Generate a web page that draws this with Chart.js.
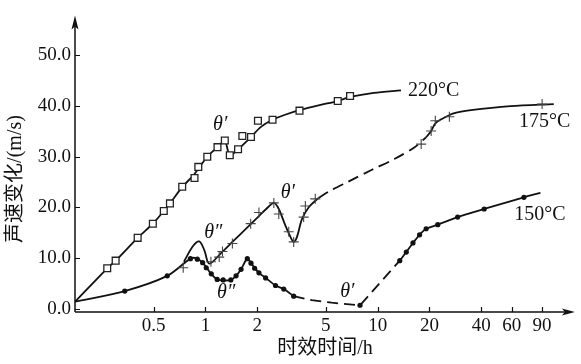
<!DOCTYPE html>
<html><head><meta charset="utf-8">
<script src="https://cdn.jsdelivr.net/npm/chart.js@4.4.1/dist/chart.umd.min.js"></script>
<style>html,body{margin:0;padding:0;background:#fff;}canvas{display:block;}</style>
</head><body>
<canvas id="c" width="581" height="364"></canvas>
<script>
// ---- axis ticks ----
const xTicks = [0.5, 1, 2, 5, 10, 20, 40, 60, 90];
const yTicks = [0, 10, 20, 30, 40, 50];
const xTitle = '时效时间/h';
const yTitle = '声速变化/(m/s)';
const seriesNames = ['220°C', '175°C', '150°C'];
const thetaNames = ['θ′', 'θ′', 'θ″', 'θ″', 'θ′'];

// ---- 220°C measured points (open squares) ----
const t220 = [0.269,0.301,0.404,0.495,0.573,0.622,0.733,0.864,0.909,1.025,1.175,1.296,1.385,1.547,1.638,1.839,2.018,2.453,3.517,5.867,6.917];
const v220 = [8.0,9.5,14.0,16.8,19.3,20.8,24.1,25.8,28.0,30.0,31.9,33.2,30.3,31.5,34.1,33.9,37.1,37.3,39.1,41.0,42.0];
// 220°C curve
const fit220T = [0.175,0.269,0.301,0.404,0.495,0.573,0.622,0.733,0.864,1.025,1.175,1.296,1.385,1.547,1.839,2.1,2.453,2.9,3.517,4.6,5.867,6.917,9.5,13.67];
const fit220V = [1.4,8.0,9.5,14.0,16.8,19.3,20.8,24.0,26.6,30.0,31.9,33.1,30.3,31.5,33.9,35.9,37.3,38.3,39.2,40.2,41.0,41.8,42.6,43.1];

// ---- 175°C measured points (crosses) ----
const t175 = [0.743,1.076,1.202,1.256,1.434,1.831,2.045,2.496,2.667,3.047,3.255,3.718,3.803,4.343,17.9,20.45,21.62,26.1,90.2];
const v175 = [8.1,9.3,10.2,11.3,12.9,16.8,19.0,20.9,18.7,15.2,13.2,18.1,20.3,21.7,32.5,35.1,37.1,37.9,40.4];
// 175°C curve: solid, dashed, solid
const fit175aT = [0.75,0.843,0.921,0.985,1.052,1.256,1.434,1.831,2.045,2.236,2.5,2.667,2.915,3.116,3.255,3.402,3.635,3.974,4.538];
const fit175aV = [9.3,12.3,13.3,11.6,8.9,11.3,13.2,16.7,18.3,19.6,20.9,19.7,16.4,14.2,13.2,14.2,17.7,20.0,21.9];
const fit175bT = [4.538,5.184,6.76,9.21,12.58,16.4,19.06];
const fit175bV = [21.9,23.1,25.1,27.4,29.6,31.9,33.8];
const fit175cT = [19.06,20.45,21.62,23.4,27.9,34.8,59.2,105.4];
const fit175cV = [33.8,35.1,36.6,37.4,38.6,39.2,40.0,40.4];

// ---- 150°C measured points (filled dots) ----
const t150 = [0.34,0.6,0.818,0.897,0.963,1.011,1.081,1.17,1.267,1.404,1.506,1.61,1.751,1.839,1.931,2.045,2.236,2.553,2.85,3.255,7.9,13.44,14.67,16.04,17.52,19.13,22.35,29.15,41.57,70.7];
const v150 = [3.5,6.5,9.9,9.8,9.1,8.1,6.9,5.8,5.7,5.7,6.5,7.8,9.9,9.0,8.0,7.1,6.1,4.6,3.9,2.5,0.7,9.5,11.2,13.0,14.6,15.8,16.6,18.1,19.7,22.0];
// 150°C curve: solid, dashed, solid
const fit150aT = [0.175,0.34,0.6,0.818,0.88,0.963,1.081,1.17,1.267,1.404,1.506,1.61,1.751,1.839,2.045,2.236,2.553,2.85,3.255];
const fit150aV = [1.4,3.5,6.5,9.9,10.0,9.1,6.9,5.8,5.6,5.7,6.5,7.8,9.9,9.0,7.1,6.1,4.6,3.9,2.5];
const fit150bT = [3.255,4.151,5.415,7.9,13.44];
const fit150bV = [2.5,1.7,1.2,0.7,9.5];
const fit150cT = [13.44,14.67,16.04,17.52,19.13,22.35,29.15,41.57,70.7,88.2];
const fit150cV = [9.5,11.2,13.0,14.6,15.8,16.6,18.1,19.7,22.0,22.9];

// ---- text label placement (data coordinates) ----
const labelPlace = [
  {t: 15.0, v: 43.0}, {t: 66.2, v: 36.9}, {t: 62.2, v: 18.6}
];
const thetaPlace = [
  {t: 1.218, v: 36.3}, {t: 3.006, v: 22.9}, {t: 1.11, v: 15.0}, {t: 1.319, v: 3.2}, {t: 6.67, v: 3.4}
];

const SERIF = '"Liberation Serif", "Times New Roman", serif';
const TITLE_FONT = '20px "Liberation Serif", "Noto Sans CJK SC", serif';
const INK = '#111';

const pts = (T, V) => T.map((t, i) => ({x: t, y: V[i]}));
const curve = (T, V, dashed, tension) => ({
  data: pts(T, V), borderColor: INK, borderWidth: 1.8,
  borderDash: dashed ? [11, 6] : [], pointRadius: 0, pointHoverRadius: 0,
  tension: tension, fill: false, order: 2
});

const decor = {
  id: 'decor',
  afterDraw(chart) {
    const {ctx, chartArea: a, scales: {x, y}} = chart;
    ctx.save();
    ctx.strokeStyle = INK; ctx.fillStyle = INK;
    // axes
    ctx.lineWidth = 1.5;
    ctx.beginPath();
    ctx.moveTo(a.left, a.bottom); ctx.lineTo(a.left, a.top + 4);
    ctx.moveTo(a.left, a.bottom); ctx.lineTo(a.right - 4, a.bottom);
    ctx.stroke();
    // arrow heads
    ctx.beginPath();
    ctx.moveTo(a.left, a.top); ctx.lineTo(a.left - 3.5, a.top + 14);
    ctx.lineTo(a.left, a.top + 11); ctx.lineTo(a.left + 3.5, a.top + 14); ctx.closePath(); ctx.fill();
    ctx.beginPath();
    ctx.moveTo(a.right, a.bottom); ctx.lineTo(a.right - 13, a.bottom - 3.5);
    ctx.lineTo(a.right - 10, a.bottom); ctx.lineTo(a.right - 13, a.bottom + 3.5); ctx.closePath(); ctx.fill();
    // inward tick marks
    ctx.lineWidth = 1.2;
    ctx.beginPath();
    yTicks.forEach(v => { const py = Math.round(y.getPixelForValue(v)) + 0.5; ctx.moveTo(a.left, py); ctx.lineTo(a.left + 5, py); });
    xTicks.forEach(v => { const px = Math.round(x.getPixelForValue(v)) + 0.5; ctx.moveTo(px, a.bottom); ctx.lineTo(px, a.bottom - 5); });
    ctx.stroke();
    // axis titles
    ctx.font = TITLE_FONT;
    ctx.textAlign = 'center'; ctx.textBaseline = 'middle';
    ctx.fillText(xTitle, (a.left + a.right) / 2, 349);
    ctx.save();
    ctx.translate(16, 179); ctx.rotate(-Math.PI / 2);
    ctx.fillText(yTitle, 0, 0);
    ctx.restore();
    // series names
    ctx.font = '20px ' + SERIF;
    ctx.textAlign = 'left';
    seriesNames.forEach((s, i) => {
      ctx.fillText(s, x.getPixelForValue(labelPlace[i].t), y.getPixelForValue(labelPlace[i].v));
    });
    // theta marks
    ctx.font = 'italic 20px ' + SERIF;
    ctx.textAlign = 'center';
    thetaNames.forEach((s, i) => {
      ctx.fillText(s, x.getPixelForValue(thetaPlace[i].t), y.getPixelForValue(thetaPlace[i].v));
    });
    ctx.restore();
  }
};

new Chart(document.getElementById('c'), {
  type: 'line',
  data: {
    datasets: [
      {data: pts(t220, v220), showLine: false, pointStyle: 'rect', pointRadius: 4.8, pointHoverRadius: 4.8,
       pointBorderWidth: 1.3, pointBorderColor: '#222', pointBackgroundColor: '#fff', order: 0},
      {data: pts(t175, v175), showLine: false, pointStyle: 'cross', pointRadius: 5, pointHoverRadius: 5,
       pointBorderWidth: 1.1, pointBorderColor: '#444', pointBackgroundColor: '#444', order: 0},
      {data: pts(t150, v150), showLine: false, pointStyle: 'circle', pointRadius: 2.6, pointHoverRadius: 2.6,
       pointBorderWidth: 0, pointBorderColor: INK, pointBackgroundColor: INK, order: 0},
      curve(fit220T, fit220V, false, 0.3),
      curve(fit175aT, fit175aV, false, 0.3),
      curve(fit175bT, fit175bV, true, 0.3),
      curve(fit175cT, fit175cV, false, 0.3),
      curve(fit150aT, fit150aV, false, 0.3),
      curve(fit150bT, fit150bV, true, 0),
      curve(fit150cT, fit150cV, false, 0.3)
    ]
  },
  options: {
    responsive: false, animation: false, devicePixelRatio: 1,
    layout: {padding: {top: 8, right: 3, left: 0, bottom: 0}},
    plugins: {legend: {display: false}, tooltip: {enabled: false}},
    events: [],
    scales: {
      x: {
        type: 'logarithmic', min: 0.1748, max: 139.8,
        afterBuildTicks: s => { s.ticks = xTicks.map(v => ({value: v})); },
        afterFit: s => { s.height = 52; },
        grid: {display: false, drawTicks: false}, border: {display: false},
        ticks: {font: {family: SERIF, size: 19}, color: INK, padding: 3, maxRotation: 0, autoSkip: false,
                callback: v => String(v)}
      },
      y: {
        type: 'linear', min: -0.63, max: 57.9,
        afterBuildTicks: s => { s.ticks = yTicks.map(v => ({value: v})); },
        afterFit: s => { s.width = 75; },
        grid: {display: false, drawTicks: false}, border: {display: false},
        ticks: {font: {family: SERIF, size: 19}, color: INK, padding: 4,
                callback: v => Number(v).toFixed(1)}
      }
    }
  },
  plugins: [decor]
});
</script>
</body></html>
